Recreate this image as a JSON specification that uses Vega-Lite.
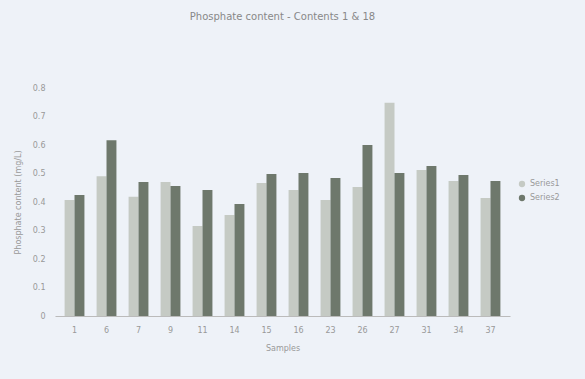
{
  "$schema": "https://vega.github.io/schema/vega-lite/v6.json",
  "width": 455,
  "height": 228,
  "autosize": {"type": "none"},
  "padding": {"left": 55, "top": 88, "right": 75, "bottom": 63},
  "background": "#eef2f8",
  "title": {"text": "Phosphate content - Contents 1 & 18", "fontSize": 10, "font": "DejaVu Sans", "fontWeight": "normal", "color": "#888888", "offset": 62, "anchor": "middle"},
  "data": {"values": [
    {"sample": "1", "series": "Series1", "value": 0.407}, {"sample": "1", "series": "Series2", "value": 0.425},
    {"sample": "6", "series": "Series1", "value": 0.49}, {"sample": "6", "series": "Series2", "value": 0.617},
    {"sample": "7", "series": "Series1", "value": 0.418}, {"sample": "7", "series": "Series2", "value": 0.47},
    {"sample": "9", "series": "Series1", "value": 0.47}, {"sample": "9", "series": "Series2", "value": 0.456},
    {"sample": "11", "series": "Series1", "value": 0.316}, {"sample": "11", "series": "Series2", "value": 0.442},
    {"sample": "14", "series": "Series1", "value": 0.354}, {"sample": "14", "series": "Series2", "value": 0.393},
    {"sample": "15", "series": "Series1", "value": 0.467}, {"sample": "15", "series": "Series2", "value": 0.498},
    {"sample": "16", "series": "Series1", "value": 0.442}, {"sample": "16", "series": "Series2", "value": 0.502},
    {"sample": "23", "series": "Series1", "value": 0.407}, {"sample": "23", "series": "Series2", "value": 0.484},
    {"sample": "26", "series": "Series1", "value": 0.453}, {"sample": "26", "series": "Series2", "value": 0.6},
    {"sample": "27", "series": "Series1", "value": 0.748}, {"sample": "27", "series": "Series2", "value": 0.502},
    {"sample": "31", "series": "Series1", "value": 0.512}, {"sample": "31", "series": "Series2", "value": 0.526},
    {"sample": "34", "series": "Series1", "value": 0.474}, {"sample": "34", "series": "Series2", "value": 0.495},
    {"sample": "37", "series": "Series1", "value": 0.414}, {"sample": "37", "series": "Series2", "value": 0.474}
  ]},
  "mark": {"type": "bar"},
  "encoding": {
    "x": {"field": "sample", "type": "nominal", "sort": null,
      "scale": {"paddingInner": 0.38, "paddingOuter": 0.3},
      "axis": {"title": "Samples", "labelAngle": 0, "labelColor": "#999999", "titleColor": "#999999", "labelFontSize": 8, "titleFontSize": 8, "titleFontWeight": "normal", "domainColor": "#bbbbbb", "ticks": false, "labelPadding": 10, "titlePadding": 10}},
    "xOffset": {"field": "series", "type": "nominal"},
    "y": {"field": "value", "type": "quantitative",
      "scale": {"domain": [0, 0.8]},
      "axis": {"title": "Phosphate content (mg/L)", "values": [0, 0.1, 0.2, 0.3, 0.4, 0.5, 0.6, 0.7, 0.8], "format": "~g", "grid": false, "domain": false, "ticks": false, "labelColor": "#999999", "titleColor": "#999999", "labelFontSize": 8, "titleFontSize": 8, "titleFontWeight": "normal", "labelPadding": 10, "titlePadding": 10}},
    "color": {"field": "series", "type": "nominal",
      "scale": {"range": ["#c5cac4", "#6e786c"]},
      "legend": {"title": null, "orient": "none", "legendX": 463, "legendY": 92, "labelColor": "#999999", "labelFontSize": 8, "symbolType": "circle", "symbolSize": 40, "rowPadding": 6}}
  },
  "config": {"view": {"stroke": null}, "font": "DejaVu Sans"}
}
